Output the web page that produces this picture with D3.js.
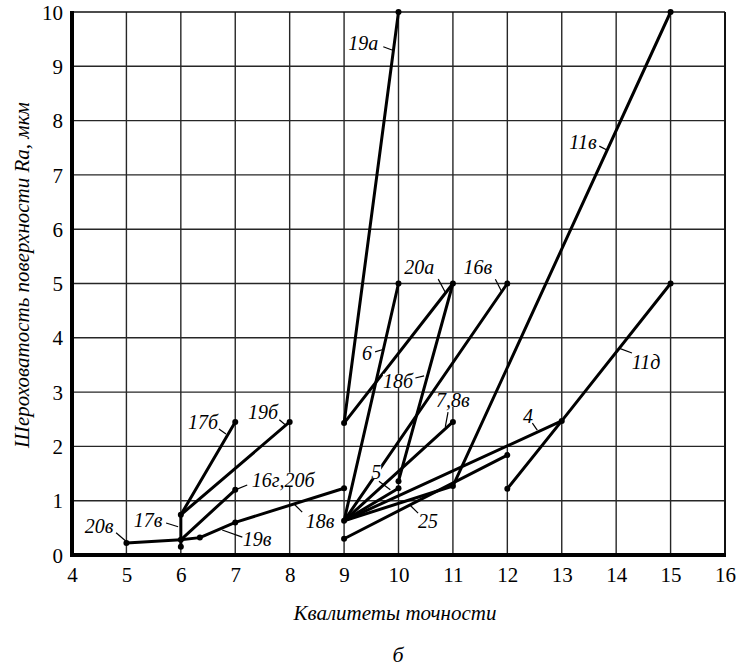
<!DOCTYPE html>
<html>
<head>
<meta charset="utf-8">
<script src="https://cdn.jsdelivr.net/npm/d3@7"></script>
</head>
<body style="margin:0;background:#fff">
<svg id="chart" width="738" height="670" style="display:block"></svg>
<script>
// ---- data ----
const xTicks = [4, 5, 6, 7, 8, 9, 10, 11, 12, 13, 14, 15, 16];
const yTicks = [0, 1, 2, 3, 4, 5, 6, 7, 8, 9, 10];
const xTitle = "Квалитеты точности";
const yTitle = "Шероховатость поверхности Ra, мкм";
const subCaption = "б";

// each series: polyline of [квалитет, Ra]
const s20v   = [[5, 0.22], [6, 0.28]];
const s17v   = [[6, 0.15], [6, 0.74]];
const s17b   = [[6, 0.74], [7, 2.45]];
const s19b   = [[6, 0.74], [8, 2.45]];
const s16g20b= [[6, 0.28], [7, 1.2]];
const s19v   = [[6, 0.28], [6.35, 0.32], [7, 0.6]];
const s18v   = [[7, 0.6], [9, 1.23]];
const s19a   = [[9, 2.43], [10, 10]];
const s20a   = [[9, 2.43], [11, 5]];
const s6     = [[9, 0.63], [10, 5]];
const s18b   = [[11, 5], [10, 1.36]];
const s16v   = [[9, 0.63], [12, 5]];
const s78v   = [[9, 0.63], [11, 2.45]];
const s5     = [[9, 0.63], [10, 1.23]];
const s4     = [[9, 0.63], [13, 2.47]];
const s11v   = [[9, 0.63], [11, 1.27], [15, 10]];
const s25    = [[9, 0.3], [12, 1.84]];
const s11d   = [[12, 1.22], [13, 2.47], [15, 5]];
const seriesList = [s20v, s17v, s17b, s19b, s16g20b, s19v, s18v, s19a, s20a, s6,
                    s18b, s16v, s78v, s5, s4, s11v, s25, s11d];

// labels: text, anchor (text centre) and leader from/to, in data units
const labelTexts = ["19а", "11в", "20а", "16в", "11д", "4", "6", "18б", "7,8в", "5",
                    "25", "18в", "19в", "16г,20б", "17б", "19б", "17в", "20в"];
const labelAt = [[9.35, 9.43], [13.39, 7.59], [10.38, 5.30], [11.46, 5.30], [14.55, 3.54],
                 [12.38, 2.56], [9.42, 3.72], [9.99, 3.20], [11.0, 2.85], [9.59, 1.53],
                 [10.54, 0.61], [8.56, 0.61], [7.40, 0.28], [7.88, 1.38], [6.41, 2.45],
                 [7.51, 2.63], [5.40, 0.64], [4.50, 0.52]];
const leaderFrom = [[9.72, 9.36], [13.69, 7.53], [10.73, 5.08], [11.78, 5.08], [14.29, 3.72],
                    [12.46, 2.43], [9.57, 3.74], [10.31, 3.26], [10.91, 2.63], [9.64, 1.36],
                    [10.36, 0.77], [8.23, 0.79], [7.13, 0.33], [7.22, 1.29], [6.70, 2.32],
                    [7.81, 2.49], [5.73, 0.59], [4.81, 0.41]];
const leaderTo   = [[9.88, 9.30], [13.83, 7.46], [10.86, 4.84], [11.89, 4.86], [14.05, 3.81],
                    [12.55, 2.30], [9.70, 3.78], [10.47, 3.30], [10.86, 2.36], [9.85, 1.20],
                    [10.21, 0.92], [8.08, 0.94], [6.76, 0.46], [7.0, 1.2], [6.83, 2.23],
                    [7.93, 2.39], [5.95, 0.52], [5.03, 0.22]];

// ---- chart ----
const FONT = '"Liberation Serif"';
const svg = d3.select("#chart");
const x = d3.scaleLinear().domain([4, 16]).range([72, 725]);
const y = d3.scaleLinear().domain([0, 10]).range([555, 12]);

// grid
const grid = svg.append("g").attr("stroke", "#262626").attr("stroke-width", 1.4);
grid.selectAll("line.v").data(xTicks.slice(1, -1)).join("line")
  .attr("x1", d => x(d)).attr("x2", d => x(d)).attr("y1", y(0)).attr("y2", y(10));
grid.selectAll("line.h").data(yTicks.slice(1, -1)).join("line")
  .attr("x1", x(4)).attr("x2", x(16)).attr("y1", d => y(d)).attr("y2", d => y(d));
// frame top/right
svg.append("line").attr("x1", x(4)).attr("x2", x(16)).attr("y1", y(10)).attr("y2", y(10))
  .attr("stroke", "#111").attr("stroke-width", 1.6);
svg.append("line").attr("x1", x(16)).attr("x2", x(16)).attr("y1", y(10)).attr("y2", y(0))
  .attr("stroke", "#111").attr("stroke-width", 2);

// data lines
const lineGen = d3.line().x(d => x(d[0])).y(d => y(d[1]));
svg.append("g").selectAll("path").data(seriesList).join("path")
  .attr("d", lineGen).attr("fill", "none").attr("stroke", "#000")
  .attr("stroke-width", 3).attr("stroke-linejoin", "round").attr("stroke-linecap", "round");

// vertices
const pts = [];
const seen = new Set();
seriesList.forEach(s => s.forEach(p => { const k = p.join(","); if (!seen.has(k)) { seen.add(k); pts.push(p); } }));
svg.append("g").selectAll("circle").data(pts).join("circle")
  .attr("cx", d => x(d[0])).attr("cy", d => y(d[1])).attr("r", 3).attr("fill", "#000");

// labels
const lg = svg.append("g");
labelTexts.forEach((t, i) => {
  const g = lg.append("g");
  const bg = g.append("rect").attr("fill", "#fff");
  const tx = g.append("text").text(t)
    .attr("x", x(labelAt[i][0])).attr("y", y(labelAt[i][1]))
    .attr("text-anchor", "middle").attr("dy", "0.33em")
    .attr("font-size", 20).attr("font-style", "italic")
    .style("font-family", FONT)
    .attr("fill", "#000");
  const b = tx.node().getBBox();
  bg.attr("x", b.x).attr("y", b.y + 4).attr("width", b.width).attr("height", b.height - 8);
  g.append("line")
    .attr("x1", x(leaderFrom[i][0])).attr("y1", y(leaderFrom[i][1]))
    .attr("x2", x(leaderTo[i][0])).attr("y2", y(leaderTo[i][1]))
    .attr("stroke", "#000").attr("stroke-width", 1.2);
});

// axes
const xAxis = svg.append("g").attr("transform", `translate(0,${y(0)})`)
  .call(d3.axisBottom(x).tickValues(xTicks).tickSize(0).tickFormat(d3.format("d")));
xAxis.select(".domain").remove();
xAxis.selectAll("text").attr("y", 27).attr("dy", null)
  .attr("font-size", 21).style("font-family", FONT).attr("fill", "#000");

const yAxis = svg.append("g").attr("transform", `translate(${x(4)},0)`)
  .call(d3.axisLeft(y).tickValues(yTicks).tickSize(0).tickPadding(9).tickFormat(d3.format("d")));
yAxis.select(".domain").remove();
yAxis.selectAll("text").attr("dy", "0.34em")
  .attr("font-size", 21).style("font-family", FONT).attr("fill", "#000");

// thick left & bottom axis lines
svg.append("line").attr("x1", x(4)).attr("x2", x(4)).attr("y1", y(10) - 1).attr("y2", y(0) + 2)
  .attr("stroke", "#000").attr("stroke-width", 4);
svg.append("line").attr("x1", x(4) - 2).attr("x2", x(16) + 1).attr("y1", y(0)).attr("y2", y(0))
  .attr("stroke", "#000").attr("stroke-width", 4);

// titles
svg.append("text").text(xTitle)
  .attr("x", 395).attr("y", 620)
  .attr("text-anchor", "middle").attr("font-size", 21).attr("font-style", "italic")
  .style("font-family", FONT);
svg.append("text").text(yTitle)
  .attr("transform", `translate(29,275) rotate(-90)`)
  .attr("text-anchor", "middle").attr("font-size", 21).attr("font-style", "italic")
  .style("font-family", FONT);
svg.append("text").text(subCaption)
  .attr("x", 398).attr("y", 662)
  .attr("text-anchor", "middle").attr("font-size", 22).attr("font-style", "italic")
  .style("font-family", FONT);
</script>
</body>
</html>
